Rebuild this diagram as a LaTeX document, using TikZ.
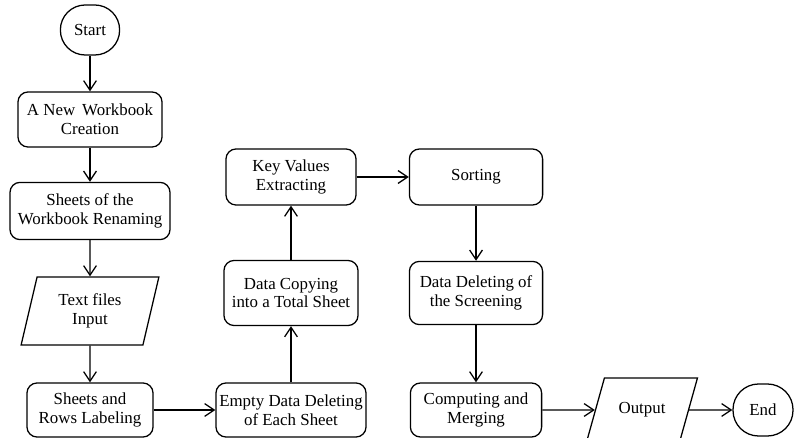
\documentclass[tikz,border=0pt]{standalone}
\usepackage{fontspec}
\setmainfont{Liberation Serif}
\usetikzlibrary{positioning}
\usetikzlibrary{shapes.geometric}
\usetikzlibrary{arrows.meta}

\tikzset{
  stepbox/.style={draw, line width=0.9pt, rounded corners=0.25cm, align=center,
    font=\fontsize{12}{13.5}\selectfont, inner sep=2pt},
  termbox/.style={draw, line width=0.9pt, rounded corners=0.62cm, align=center,
    font=\fontsize{12}{13.5}\selectfont, minimum height=1.25cm},
  iobox/.style={draw, line width=0.9pt, trapezium, trapezium stretches=true,
    align=center, font=\fontsize{12}{13.5}\selectfont},
  flow/.style={line width=0.9pt, -{Straight Barb[length=2.4mm,width=3.2mm]}}
}

\begin{document}
\begin{tikzpicture}[x=0.025cm, y=-0.025cm]
\useasboundingbox (0,0) rectangle (794,438);

% left column
\node[termbox, minimum width=1.48cm] (start) at (90,30) {Start};
\node[stepbox, minimum width=3.6cm, minimum height=1.375cm] (create) at (90,119.5)
{A New\, Workbook\\Creation};
\node[stepbox, minimum width=4.0cm, minimum height=1.43cm] (rename) at (90,211)
{Sheets of the\\Workbook Renaming};
\node[iobox, trapezium left angle=76, trapezium right angle=104,
  minimum width=3.45cm, minimum height=1.7cm] (input) at (90,311)
{Text files\\Input};
\node[stepbox, minimum width=3.15cm, minimum height=1.35cm] (label) at (90,410)
{Sheets and\\Rows Labeling};

% middle column
\node[stepbox, minimum width=3.75cm, minimum height=1.35cm] (empty) at (291,410)
{Empty Data Deleting\\of Each Sheet};
\node[stepbox, minimum width=3.35cm, minimum height=1.625cm] (copy) at (291,293)
{Data Copying\\into a Total Sheet};
\node[stepbox, minimum width=3.25cm, minimum height=1.4cm] (keys) at (291,177)
{Key Values\\Extracting};

% right column
\node[stepbox, minimum width=3.33cm, minimum height=1.4cm] (sort) at (476,177)
{Sorting};
\node[stepbox, minimum width=3.33cm, minimum height=1.58cm] (screen) at (476,293)
{Data Deleting of\\the Screening};
\node[stepbox, minimum width=3.28cm, minimum height=1.35cm] (merge) at (476,410)
{Computing and\\Merging};
\node[iobox, trapezium left angle=61, trapezium right angle=119,
  minimum width=2.78cm, minimum height=1.6cm] (output) at (642,410)
{Output};
\node[termbox, minimum width=1.5cm, minimum height=1.3cm, rounded corners=0.64cm] (finish) at (763,410)
{End};

%arrows
\draw[flow] (start) -- (create);
\draw[flow] (create) -- (rename);
\draw[flow] (rename) -- (input);
\draw[flow] (input) -- (label);
\draw[flow] (label) -- (empty);
\draw[flow] (empty) -- (copy);
\draw[flow] (copy) -- (keys);
\draw[flow] (keys) -- (sort);
\draw[flow] (sort) -- (screen);
\draw[flow] (screen) -- (merge);
\draw[flow] (merge) -- (output);
\draw[flow] (output) -- (finish);

\end{tikzpicture}
\end{document}
